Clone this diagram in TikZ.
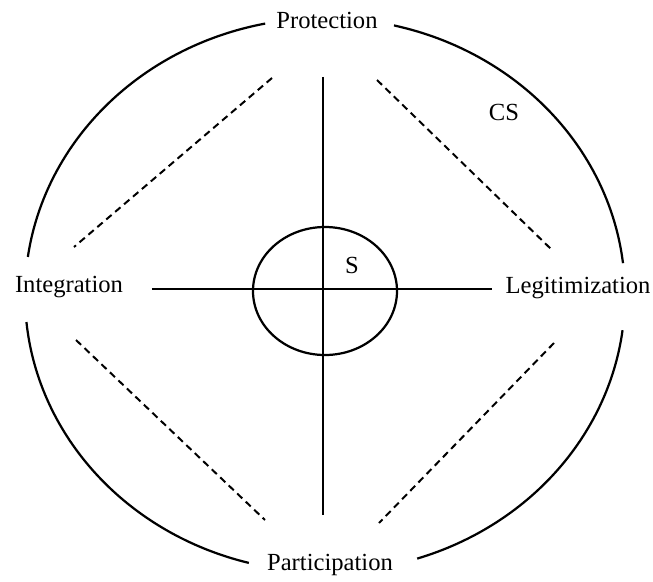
\documentclass[tikz,border=0pt]{standalone}
\usepackage{fontspec}
\setmainfont{Liberation Serif}
\usepackage{tikz}
\usetikzlibrary{calc}

\begin{document}
\begin{tikzpicture}[
        x=0.03cm, y=0.03cm,
        line width=1.9pt,
        every node/.style={font=\fontsize{21}{25}\selectfont, inner sep=2pt},
        gestrichelt/.style={line width=1.7pt, dash pattern=on 6pt off 4pt},
      ]
      \useasboundingbox (-325,-286) rectangle (328,295);

      % Aussenkreis (CS), unterbrochen an den Beschriftungen
      \foreach \a/\b in {6.6/76.7, 101.5/172.1, 185.6/255.3, 287.9/352.7} {
        \draw (\a:300 and 277) arc[start angle=\a, end angle=\b,
                                   x radius=300, y radius=277];
      }
      \node (prot)  at (2,275)    {Protection};
      \node (part)  at (5,-270)   {Participation};
      \node (integ) at (-256,8)   {Integration};
      \node (legit) at (253,7)    {Legitimization};
      \node (cs)    at (179,183)  {CS};

      % Achsen
      \coordinate (oben)   at (-2,218);
      \coordinate (unten)  at (-2,-220);
      \coordinate (links)  at (-173,6);
      \coordinate (rechts) at (167,6);
      \draw (oben) -- (unten);
      \draw (links) -- (rechts);

      % Innenkreis (S)
      \draw (0,4) ellipse [x radius=72, y radius=64];
      \node (s) at (27,30) {S};

      % gestrichelte Diagonalen
      \foreach \xa/\ya/\xb/\yb in {-53/217/-251/48, 52/215/227/45,
                                   -249/-45/-60/-225, 229/-48/54/-228} {
        \draw[gestrichelt] (\xa,\ya) -- (\xb,\yb);
      }
    \end{tikzpicture}
\end{document}
